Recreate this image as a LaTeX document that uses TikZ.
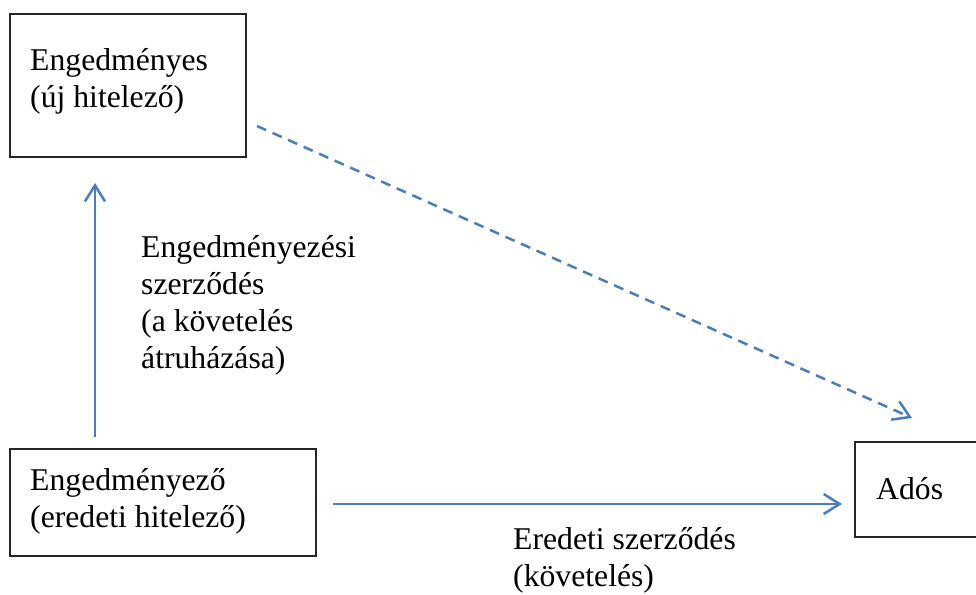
\documentclass[tikz,border=0pt]{standalone}
\usepackage{fontspec}
\setmainfont{Liberation Serif}
\usetikzlibrary{arrows.meta}
\definecolor{wordblue}{RGB}{74,126,187}
\begin{document}
\begin{tikzpicture}[x=1pt,y=-1pt,
  box/.style={draw=black!85, line width=1.4pt, inner sep=0pt, outer sep=0pt, anchor=north west},
  txt/.style={anchor=base west, align=left, inner sep=0pt, font=\fontsize{31.7}{36.8}\selectfont},
  conn/.style={wordblue, line width=2.5pt, -{Straight Barb[length=16pt,width=20pt]}},
]
\useasboundingbox (0,0) rectangle (976,594);
% boxes
\node[box, minimum width=236pt, minimum height=143pt] (nes) at (10,14) {};
\node[box, minimum width=306pt, minimum height=107pt] (zo) at (10,449) {};
\node[box, minimum width=130pt, minimum height=95pt] (ados) at (855,442) {};
% texts (base anchor = baseline of last line)
\node[txt] (tnes) at (30,107) {Engedményes\\(új hitelező)};
\node[txt] (tzo) at (30,527) {Engedményező\\(eredeti hitelező)};
\node[txt] (tados) at (876,499) {Adós};
\node[txt] (lab1) at (141,368) {Engedményezési\\szerződés\\(a követelés\\átruházása)};
\node[txt] (lab2) at (513,586) {Eredeti szerződés\\(követelés)};
% connector ends
\coordinate (vs) at (95,437);
\coordinate (ve) at (95,183);
\coordinate (hs) at (333,504);
\coordinate (he) at (842,504);
\coordinate (ds) at (257,126);
\coordinate (de) at (912,418);
% connectors
\draw[conn] (vs) -- (ve);
\draw[conn] (hs) -- (he);
\draw[conn, dash pattern=on 10pt off 7pt] (ds) -- (de);
\end{tikzpicture}
\end{document}
